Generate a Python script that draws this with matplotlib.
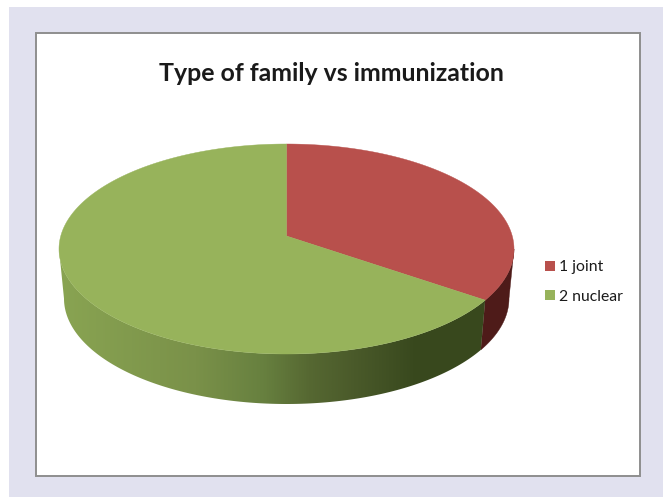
import numpy as np
import matplotlib
matplotlib.use("Agg")
import matplotlib.pyplot as plt
from matplotlib.colors import LinearSegmentedColormap
from matplotlib.patches import Polygon, Rectangle, Patch

title = "Type of family vs immunization"
categories = ["1 joint", "2 nuclear"]
values = [33.1, 66.9]

TOP = dict(cx=286.5, cy=249.0, a=227.5, b=105.0)
BOT = dict(cx=286.5, cy=298.5, a=222.5, b=105.5)
APEX = (286.5, 236.0)
top_colors = ["#B8504C", "#97B35B"]
green_side = LinearSegmentedColormap.from_list(
    "gs", [(0, "#89A452"), (0.3, "#7A9149"), (0.45, "#67803F"), (0.55, "#566832"), (0.65, "#4A5A2A"),
           (0.78, "#39491E"), (1, "#38481D")])
red_side = "#4E1B19"

fig = plt.figure(figsize=(6.63, 4.97), dpi=100, facecolor="white")
ax = fig.add_axes([0, 0, 1, 1])
ax.axis("off")

ax.add_patch(Rectangle((9, 7), 660, 500, fc="#E1E1EF", ec="none", zorder=0))
ax.add_patch(Rectangle((36, 33), 604, 443, fc="white", ec="#8E8E8E", lw=1.4, zorder=1))


def pts(e, deg):
    r = np.deg2rad(deg)
    return np.column_stack([e["cx"] + e["a"] * np.cos(r), e["cy"] - e["b"] * np.sin(r)])


fractions = np.array(values) / sum(values)
starts = 90 - 360 * np.concatenate([[0], np.cumsum(fractions)[:-1]])
ends = starts - 360 * fractions

# Side walls: only the front half of the cylinder (angles -180..0) is visible
for i, (s, e) in enumerate(zip(starts, ends)):
    a0, a1 = max(e, -180), min(s, 0)
    if a1 <= a0:
        continue
    th = np.linspace(a0, a1, 200)
    wall = np.vstack([pts(TOP, th), pts(BOT, th[::-1])])
    if i == 0:
        ax.add_patch(Polygon(wall, closed=True, fc=red_side, ec=red_side, lw=0.3, zorder=2))
    else:
        clip = Polygon(wall, closed=True, fc="none", ec="none", transform=ax.transData)
        ax.add_patch(clip)
        grad = np.linspace(0, 1, 512).reshape(1, -1)
        x0, x1 = BOT["cx"] - TOP["a"], BOT["cx"] + TOP["a"]
        im = ax.imshow(grad, cmap=green_side, extent=(x0, x1, 420, 230), aspect="auto",
                       interpolation="bilinear", zorder=2)
        im.set_clip_path(clip)

# Top faces
for i, (s, e) in enumerate(zip(starts, ends)):
    th = np.linspace(s, e, 361)
    verts = np.vstack([[APEX], pts(TOP, th)])
    ax.add_patch(Polygon(verts, closed=True, fc=top_colors[i], ec=top_colors[i], lw=0.3, zorder=3))

ax.set_xlim(0, 663)
ax.set_ylim(497, 0)

ax.text(331.5, 73.5, title, ha="center", va="center", fontsize=17.9, fontweight="bold",
        family="Lato", color="#1A1A1A", zorder=5)

handles = [Patch(fc=c, ec="none") for c in top_colors]
leg = ax.legend(handles, categories, loc="center left", bbox_to_anchor=(545 / 663, 1 - 282 / 497),
                frameon=False, prop={"family": "Lato", "size": 11.3},
                handlelength=0.62, handleheight=0.62, handletextpad=0.3, labelspacing=1.0,
                borderpad=0, borderaxespad=0, labelcolor="#1A1A1A")

fig.savefig("out.png", dpi=100, facecolor="white")
